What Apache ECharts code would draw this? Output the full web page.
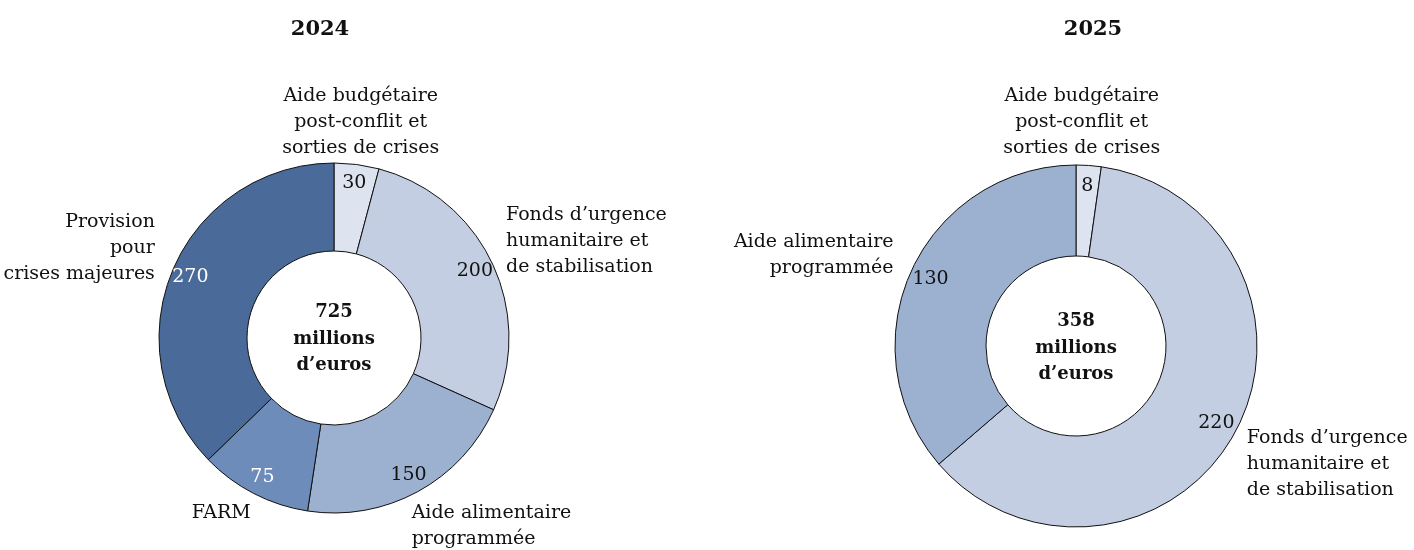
<!DOCTYPE html>
<html>
<head>
<meta charset="utf-8">
<script src="https://cdn.jsdelivr.net/npm/echarts@6/dist/echarts.min.js"></script>
<style>
  html, body { margin: 0; padding: 0; background: #fff; }
  #chart { width: 1414px; height: 550px; }
</style>
</head>
<body>
<div id="chart"></div>
<script>
// données 2024
const categories2024 = [
  'Aide budgétaire\npost-conflit et\nsorties de crises',
  'Fonds d’urgence\nhumanitaire et\nde stabilisation',
  'Aide alimentaire\nprogrammée',
  'FARM',
  'Provision\npour\ncrises majeures'
];
const values2024 = [30, 200, 150, 75, 270];
const colors2024 = ['#dde3ef', '#c3cee2', '#9cb0cf', '#6d8cba', '#4a6a99'];
const valueColors2024 = ['#111', '#111', '#111', '#fff', '#fff'];

// données 2025
const categories2025 = [
  'Aide budgétaire\npost-conflit et\nsorties de crises',
  'Fonds d’urgence\nhumanitaire et\nde stabilisation',
  'Aide alimentaire\nprogrammée'
];
const values2025 = [8, 220, 130];
const colors2025 = ['#dde3ef', '#c3cee2', '#9cb0cf'];
const valueColors2025 = ['#111', '#111', '#111'];

const years = ['2024', '2025'];

const FONT = 'DejaVu Serif';
const total = arr => arr.reduce((a, b) => a + b, 0);

// décalages des étiquettes de catégories [dx, dy, align]
const labelShift = [
  [[4, -42, 'center'], [14, -22, 'left'], [-6, 34, 'left'], [-3, 20, 'right'], [-18, -22, 'right']],
  [[-7, -43, 'center'], [12, 31, 'left'], [-18, -15, 'right']]
];

function buildSeries(idx, cats, vals, cols, valCols, center, radius, valueRadius) {
  const main = {
    type: 'pie',
    center: center,
    radius: radius,
    startAngle: 90,
    clockwise: true,
    silent: true,
    emphasis: { scale: false },
    avoidLabelOverlap: false,
    itemStyle: { borderColor: '#111', borderWidth: 1 },
    label: {
      show: true,
      position: 'outside',
      fontFamily: FONT,
      fontSize: 19,
      lineHeight: 26,
      color: '#111',
      distanceToLabelLine: 0
    },
    labelLine: { show: false, length: 0, length2: 0 },
    labelLayout: function (p) {
      const s = labelShift[idx][p.dataIndex];
      return { dx: s[0], dy: s[1], align: s[2], verticalAlign: 'middle' };
    },
    data: cats.map((c, i) => ({
      name: c,
      value: vals[i],
      itemStyle: { color: cols[i] }
    }))
  };
  const values = {
    type: 'pie',
    center: center,
    radius: valueRadius,
    startAngle: 90,
    clockwise: true,
    silent: true,
    emphasis: { disabled: true },
    itemStyle: { color: 'transparent', borderWidth: 0 },
    label: {
      show: true,
      position: 'inside',
      fontFamily: FONT,
      fontSize: 19,
      formatter: '{c}'
    },
    labelLine: { show: false },
    data: vals.map((v, i) => ({
      name: cats[i],
      value: v,
      label: { color: valCols[i] }
    }))
  };
  return [main, values];
}

const chart = echarts.init(document.getElementById('chart'));

const titleStyle = { fontFamily: FONT, fontSize: 21, fontWeight: 'bold', color: '#111' };
const centerStyle = { fontFamily: FONT, fontSize: 18, fontWeight: 'bold', lineHeight: 26.5, color: '#111' };

const option = {
  animation: false,
  backgroundColor: '#fff',
  title: [
    { text: years[0], left: 320, top: 30, padding: 0, textAlign: 'center', textVerticalAlign: 'middle',
      textStyle: titleStyle },
    { text: years[1], left: 1093, top: 30, padding: 0, textAlign: 'center', textVerticalAlign: 'middle',
      textStyle: titleStyle },
    { text: total(values2024) + '\nmillions\nd’euros', left: 334, top: 339, padding: 0,
      textAlign: 'center', textVerticalAlign: 'middle', textStyle: centerStyle },
    { text: total(values2025) + '\nmillions\nd’euros', left: 1076, top: 348, padding: 0,
      textAlign: 'center', textVerticalAlign: 'middle', textStyle: centerStyle }
  ],
  series: [].concat(
    buildSeries(0, categories2024, values2024, colors2024, valueColors2024, [334, 338], [87, 175], [131, 175]),
    buildSeries(1, categories2025, values2025, colors2025, valueColors2025, [1076, 346], [90, 181], [133, 181])
  )
};

chart.setOption(option);
</script>
</body>
</html>
